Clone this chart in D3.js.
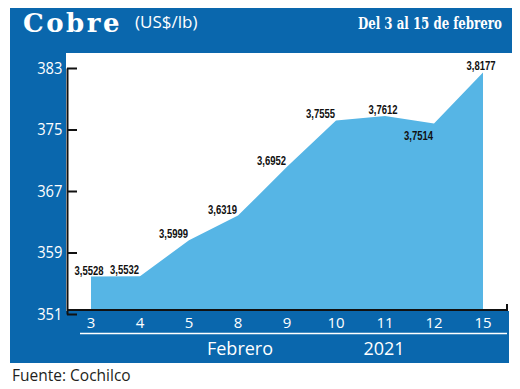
<!DOCTYPE html>
<html>
<head>
<meta charset="utf-8">
<script src="https://cdn.jsdelivr.net/npm/d3@7"></script>
<style>
  body { margin: 0; background: #fff; }
  svg { display: block; }
</style>
</head>
<body>
<div class="canvas"></div>
<script>
// precio del cobre, US$/lb, del 3 al 15 de febrero 2021
var dias = ['3', '4', '5', '8', '9', '10', '11', '12', '15'];
var precios = [3.5528, 3.5532, 3.5999, 3.6319, 3.6952, 3.7555, 3.7612, 3.7514, 3.8177];
var yTicks = [351, 359, 367, 375, 383];
var mes = 'Febrero', anio = '2021';

var width = 520, height = 389;
var azul = '#0a67ad', celeste = '#56b5e5';

var svg = d3.select('.canvas').append('svg')
	.attr('width', width).attr('height', height);

var data = dias.map(function(d, i) { return { dia: d, v: precios[i], c: precios[i] * 100 }; });

// frame
svg.append('rect').attr('x', 10).attr('y', 8).attr('width', 502).attr('height', 45).attr('fill', azul);
svg.append('rect').attr('x', 10).attr('y', 52).attr('width', 56).attr('height', 311).attr('fill', azul);
svg.append('rect').attr('x', 10).attr('y', 311).attr('width', 499).attr('height', 52).attr('fill', azul);

// scales
var x = d3.scalePoint().domain(dias).range([91, 483]);
var y = d3.scaleLinear().domain([351, 383]).range([314, 68]);       // axis
var yArea = d3.scaleLinear().domain([351, 383]).range([309.5, 63]);  // drawn area sits a bit higher

var area = d3.area()
	.x(function(d) { return x(d.dia); })
	.y0(yArea(351))
	.y1(function(d) { return yArea(d.c); });

svg.append('path').datum(data)
	.attr('d', area)
	.attr('fill', celeste);

// y axis
var gy = svg.append('g')
	.attr('transform', 'translate(67,0)')
	.call(d3.axisLeft(y).tickValues(yTicks).tickSize(-10).tickSizeOuter(0).tickPadding(5));
gy.select('.domain').attr('stroke', '#111').attr('stroke-width', 2);
gy.selectAll('.tick line').attr('stroke', '#111').attr('stroke-width', 2);
gy.selectAll('.tick text')
	.attr('fill', '#fff')
	.style('font-family', '"Open Sans", sans-serif')
	.style('font-size', '16px')
	.attr('transform', 'scale(0.92,1)');

// x axis line
svg.append('path')
	.attr('d', 'M67,310H507V304')
	.attr('fill', 'none').attr('stroke', '#111').attr('stroke-width', 2);

svg.selectAll('text.dia')
	.data(data).enter().append('text')
	.classed('dia', true)
	.attr('x', function(d) { return x(d.dia); })
	.attr('y', 328)
	.attr('text-anchor', 'middle')
	.attr('fill', '#fff')
	.style('font-family', '"Open Sans", sans-serif')
	.style('font-size', '15px')
	.text(function(d) { return d.dia; });

svg.append('line')
	.attr('x1', 80).attr('x2', 507).attr('y1', 333.5).attr('y2', 333.5)
	.attr('stroke', '#fff').attr('stroke-width', 1.5);

svg.append('text').attr('x', 240).attr('y', 355).attr('text-anchor', 'middle')
	.attr('fill', '#fff').style('font-family', '"Open Sans", sans-serif').style('font-size', '18px')
	.text(mes);
svg.append('text').attr('x', 384).attr('y', 355).attr('text-anchor', 'middle')
	.attr('fill', '#fff').style('font-family', '"Open Sans", sans-serif').style('font-size', '18px')
	.text(anio);

// value labels
var fmt = function(v) { return v.toFixed(4).replace('.', ','); };
var labels = svg.selectAll('text.valor')
	.data(data).enter().append('text')
	.classed('valor', true)
	.style('font-family', '"Liberation Sans Narrow", "Liberation Sans", sans-serif')
	.style('font-weight', 'bold')
	.style('font-size', '12.5px')
	.attr('fill', '#111')
	.text(function(d) { return fmt(d.v); });

labels.each(function(d, i) {
	var prev = data[i - 1], next = data[i + 1];
	var px = x(d.dia), py = yArea(d.c);
	var sube = next && next.v - d.v > 0.001;            // rising into next point: keep label to the left
	var bajo = prev && next && d.v < prev.v && d.v < next.v; // local dip: label below
	var ax = sube ? px - 1 : px - 2;
	var ay = bajo ? py + 16 : py - 2;
	d3.select(this)
		.attr('text-anchor', sube ? 'end' : 'middle')
		.attr('transform', 'translate(' + ax + ',' + ay + ') scale(0.76,1)');
});

// title
svg.append('text').attr('x', 23).attr('y', 32)
	.attr('fill', '#fff')
	.style('font-family', '"DejaVu Serif", serif').style('font-weight', 'bold').style('font-size', '26px')
	.style('letter-spacing', '2.5px')
	.text('Cobre');
svg.append('text').attr('x', 135).attr('y', 28)
	.attr('fill', '#fff')
	.style('font-family', '"Open Sans", sans-serif').style('font-size', '17px')
	.text('(US$/lb)');

// subtitle squeezed to the width it has in the original
var sub = svg.append('text').attr('x', 0).attr('y', 0)
	.attr('fill', '#fff')
	.style('font-family', '"DejaVu Serif Condensed", "DejaVu Serif", serif').style('font-weight', 'bold').style('font-size', '16px')
	.text('Del 3 al 15 de febrero');
var subW = sub.node().getComputedTextLength();
sub.attr('transform', 'translate(358,29) scale(' + (144 / subW) + ',1)');

svg.append('text').attr('x', 12).attr('y', 381)
	.attr('fill', '#231f20')
	.style('font-family', '"Open Sans", sans-serif').style('font-size', '15.5px')
	.text('Fuente: Cochilco');
</script>
</body>
</html>
